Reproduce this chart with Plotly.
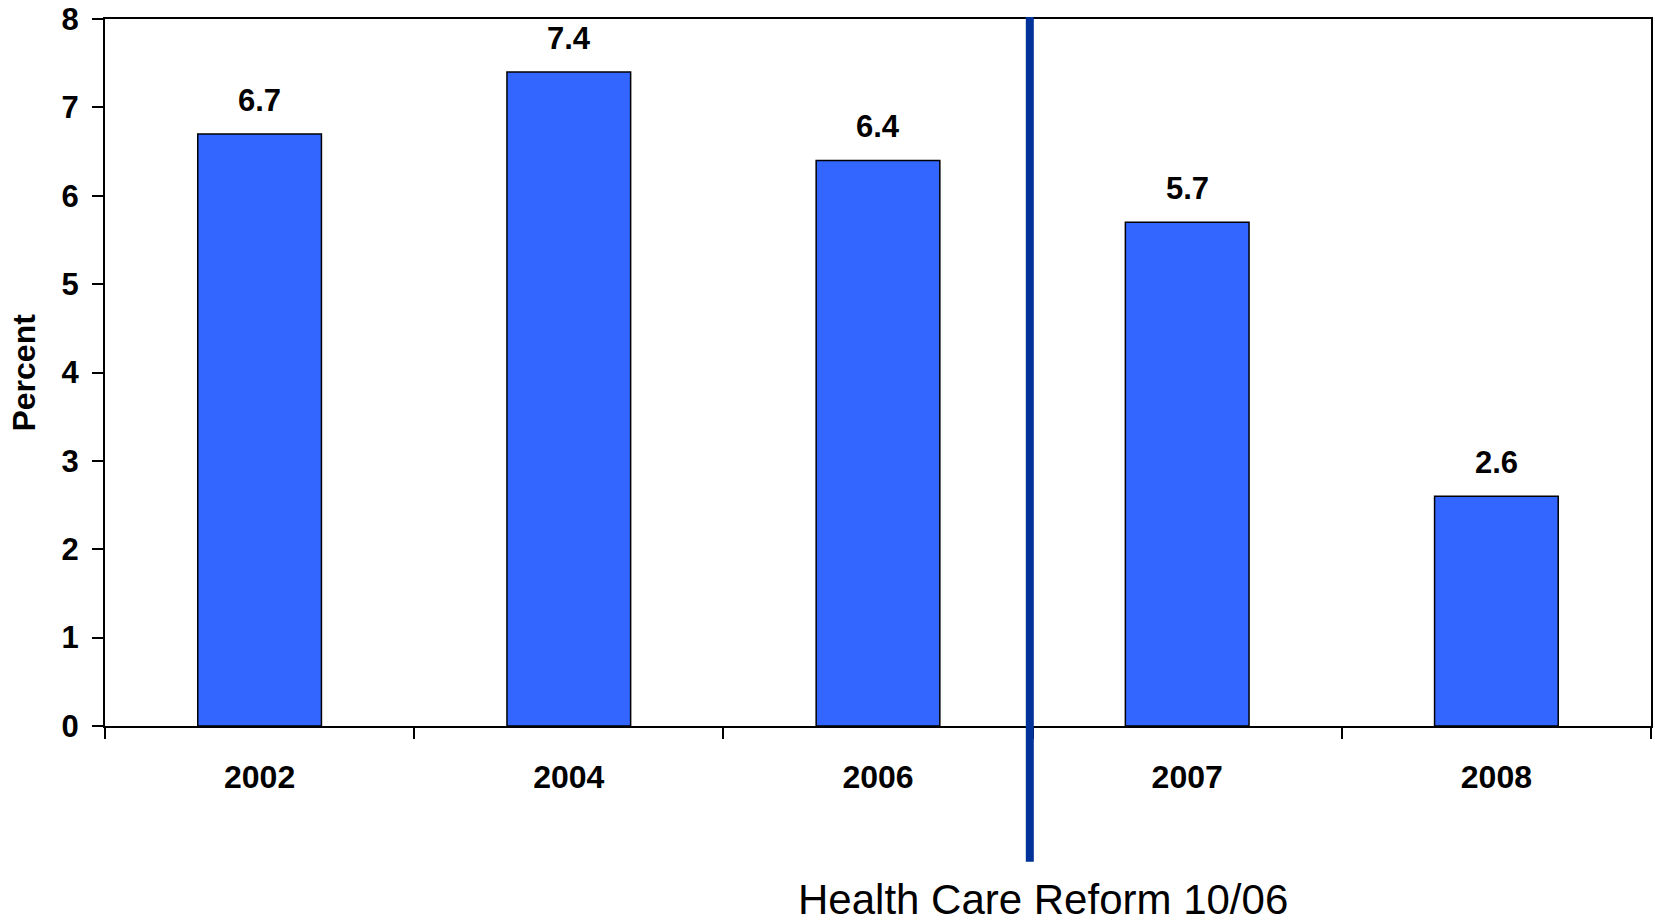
import plotly.graph_objects as go

# Survey years and the share (percent) reported for each
years = ["2002", "2004", "2006", "2007", "2008"]
percent = [6.7, 7.4, 6.4, 5.7, 2.6]
y_ticks = [0, 1, 2, 3, 4, 5, 6, 7, 8]

# Position of the reform marker on the category index scale (between 2006 and 2007)
reform_pos = 2.491
reform_label = "Health Care Reform 10/06"

FONT = "Liberation Sans, Arial, sans-serif"

xpos = list(range(len(years)))
boundaries = [i - 0.5 for i in range(len(years) + 1)]

fig = go.Figure()
fig.add_trace(go.Bar(
    x=xpos,
    y=percent,
    width=0.4,
    marker=dict(color="#3366FF", line=dict(color="#000000", width=1.5)),
    hovertext=years,
    hoverinfo="text+y",
))

# Value labels above each bar
for xp, v in zip(xpos, percent):
    fig.add_annotation(
        x=xp, y=v, xref="x", yref="y",
        text=f"<b>{v:.1f}</b>", showarrow=False,
        yanchor="bottom", yshift=14,
        font=dict(family=FONT, size=31, color="#000000"),
    )

# Vertical reform marker line
fig.add_shape(
    type="line", xref="x", yref="paper",
    x0=reform_pos, x1=reform_pos, y0=-0.192, y1=1.003,
    line=dict(color="#003399", width=8),
)
fig.add_annotation(
    x=0.607, y=-0.246, xref="paper", yref="paper",
    text=reform_label, showarrow=False,
    xanchor="center", yanchor="middle",
    font=dict(family=FONT, size=42, color="#000000"),
)

# Y axis title
fig.add_annotation(
    x=-0.053, y=0.5, xref="paper", yref="paper",
    text="<b>Percent</b>", showarrow=False, textangle=-90,
    xanchor="center", yanchor="middle",
    font=dict(family=FONT, size=32, color="#000000"),
)

fig.update_layout(
    width=1655, height=924,
    margin=dict(l=105, r=2, t=18, b=198),
    paper_bgcolor="#FFFFFF", plot_bgcolor="#FFFFFF",
    showlegend=False,
    font=dict(family=FONT, color="#000000"),
)
fig.update_xaxes(
    type="linear",
    range=[-0.5, len(years) - 0.5],
    tickmode="array", tickvals=xpos, ticktext=years,
    ticks="",
    minor=dict(tickmode="array", tickvals=boundaries, ticks="outside",
               ticklen=11, tickwidth=1.5, tickcolor="#000000", showgrid=False),
    showline=True, linecolor="#000000", linewidth=2, mirror=True,
    showgrid=False, zeroline=False,
    tickfont=dict(family=FONT, size=32, color="#000000", weight="bold"),
    ticklabelstandoff=22,
)
fig.update_yaxes(
    range=[0, 8], tickvals=y_ticks,
    ticks="outside", ticklen=11, tickwidth=1.5, tickcolor="#000000",
    showline=True, linecolor="#000000", linewidth=2, mirror=True,
    showgrid=False, zeroline=False,
    tickfont=dict(family=FONT, size=31, color="#000000", weight="bold"),
    ticklabelstandoff=7,
)

fig.write_html("out.html")
